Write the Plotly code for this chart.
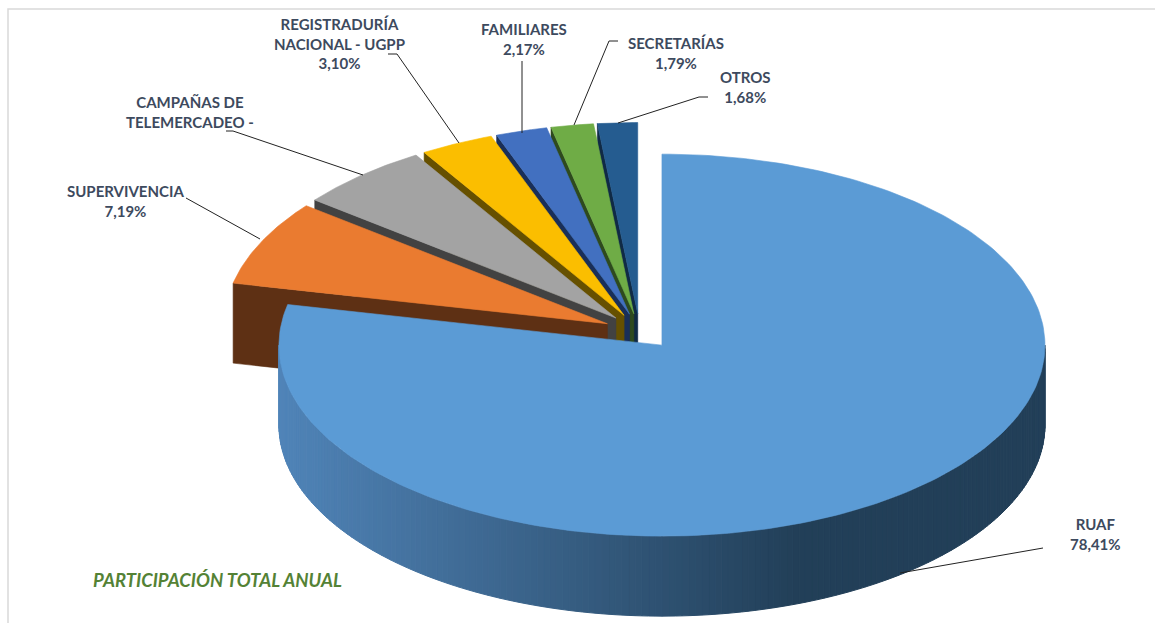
import math
import plotly.graph_objects as go

categories = ["RUAF", "SUPERVIVENCIA", "CAMPAÑAS DE<br>TELEMERCADEO -",
              "REGISTRADURÍA<br>NACIONAL - UGPP", "FAMILIARES", "SECRETARÍAS", "OTROS"]
values = [78.41, 7.19, 5.66, 3.10, 2.17, 1.79, 1.68]
show_value = [True, True, False, True, True, True, True]

top_colors = ["#5B9BD5", "#EA7B30", "#A3A3A3", "#FBBE00", "#4270C0", "#6FAC46", "#255C90"]
wall_colors = ["#22405A", "#5E3014", "#424242", "#665000", "#1A2F58", "#2E4A1E", "#102A45"]

# projection of the tilted pie onto the page, in pixels
CX, CY, RX, RY, DEPTH, EXPLODE = 639.6, 331.3, 383, 191, 80, 0.093
LABEL_COLOR = "#3D4A5E"
FONT = "Lato"


def point(cx, cy, deg):
    a = math.radians(deg)
    return cx + RX * math.sin(a), cy - RY * math.cos(a)


def mix(c1, c2, t):
    a = [int(c1[i:i + 2], 16) for i in (1, 3, 5)]
    b = [int(c2[i:i + 2], 16) for i in (1, 3, 5)]
    return "#%02x%02x%02x" % tuple(round(p + (q - p) * t) for p, q in zip(a, b))


def poly(xs, ys, color, line=0.6):
    return go.Scatter(x=xs, y=ys, mode="lines", fill="toself", fillcolor=color,
                      line=dict(color=color, width=line), hoverinfo="skip", showlegend=False)


# slice geometry from the values
slices = []
start = 0.0
total = sum(values)
for v in values:
    sweep = 360 * v / total
    mid = start + sweep / 2
    m = math.radians(mid)
    ax = CX + EXPLODE * RX * math.sin(m)
    ay = CY - EXPLODE * RY * math.cos(m)
    slices.append((start, start + sweep, ax, ay))
    start += sweep

fig = go.Figure()

# small slices: farthest first, so nearer slices hide the walls behind them
for i in range(len(values) - 1, 0, -1):
    s, e, ax, ay = slices[i]
    p = point(ax, ay, s)
    fig.add_trace(poly([p[0], ax, ax, p[0], p[0]],
                       [p[1], ay, ay + DEPTH, p[1] + DEPTH, p[1]], wall_colors[i]))
    n = 40
    pts = [point(ax, ay, s + (e - s) * k / n) for k in range(n + 1)]
    fig.add_trace(poly([ax] + [q[0] for q in pts] + [ax],
                       [ay] + [q[1] for q in pts] + [ay], top_colors[i]))

# main slice: shaded outer wall, then top
s, e, ax, ay = slices[0]
steps = 180
for k in range(steps):
    a0 = 90 + 180 * k / steps
    a1 = 90 + 180 * (k + 1) / steps
    p0, p1 = point(ax, ay, a0), point(ax, ay, a1)
    xm = (p0[0] + p1[0]) / 2
    t = max(0.0, min(1.0, (xm - (ax - RX)) / (1.35 * RX)))
    col = mix("#5084B8", "#223F58", t)
    fig.add_trace(poly([p0[0], p1[0], p1[0], p0[0], p0[0]],
                       [p0[1], p1[1], p1[1] + DEPTH, p0[1] + DEPTH, p0[1]], col, 1))
n = 240
pts = [point(ax, ay, s + (e - s) * k / n) for k in range(n + 1)]
fig.add_trace(poly([ax] + [q[0] for q in pts] + [ax],
                   [ay] + [q[1] for q in pts] + [ay], top_colors[0]))

# data labels
label_centres = [(1095, 534), (125, 201), (190, 112), (339, 43), (524, 39), (676, 53), (745, 87)]
annotations = []
for cat, v, shown, (lx, ly) in zip(categories, values, show_value, label_centres):
    text = cat
    if shown:
        text += "<br>" + f"{v:.2f}".replace(".", ",") + "%"
    annotations.append(dict(x=lx, y=ly, xref="x", yref="y", text=text, showarrow=False,
                            align="center", xanchor="center", yanchor="middle",
                            font=dict(family=FONT, size=15, color=LABEL_COLOR, weight="bold")))
annotations.append(dict(x=91, y=580, xref="x", yref="y", text="<i>PARTICIPACIÓN TOTAL ANUAL</i>",
                        showarrow=False, xanchor="left", yanchor="middle",
                        font=dict(family=FONT, size=18.5, color="#548235", weight="bold")))

# leader lines
leaders = [
    "M186,198 L260,239",
    "M226,131 L233,131 L363,175",
    "M388,54 L397,54 L459,143",
    "M522,61 L522,133",
    "M618,41 L609,41 L574,125",
    "M708,97 L699,97 L618,123",
    "M1043,548 L900,573",
]
shapes = [dict(type="path", path=d, xref="x", yref="y", line=dict(color="#222222", width=1),
               layer="above") for d in leaders]
# chart frame
shapes.append(dict(type="path", path="M8,623 L8,9 L1155,9", xref="x", yref="y",
                   line=dict(color="#D9D9D9", width=1.5), layer="below"))

fig.update_layout(
    width=1155, height=623, margin=dict(l=0, r=0, t=0, b=0),
    paper_bgcolor="white", plot_bgcolor="white", showlegend=False,
    xaxis=dict(range=[0, 1155], visible=False, fixedrange=True),
    yaxis=dict(range=[623, 0], visible=False, fixedrange=True),
    annotations=annotations, shapes=shapes,
)
fig.write_html("out.html", config=dict(displayModeBar=False),
               post_script="document.body.style.margin='0';document.body.style.overflow='hidden';")
